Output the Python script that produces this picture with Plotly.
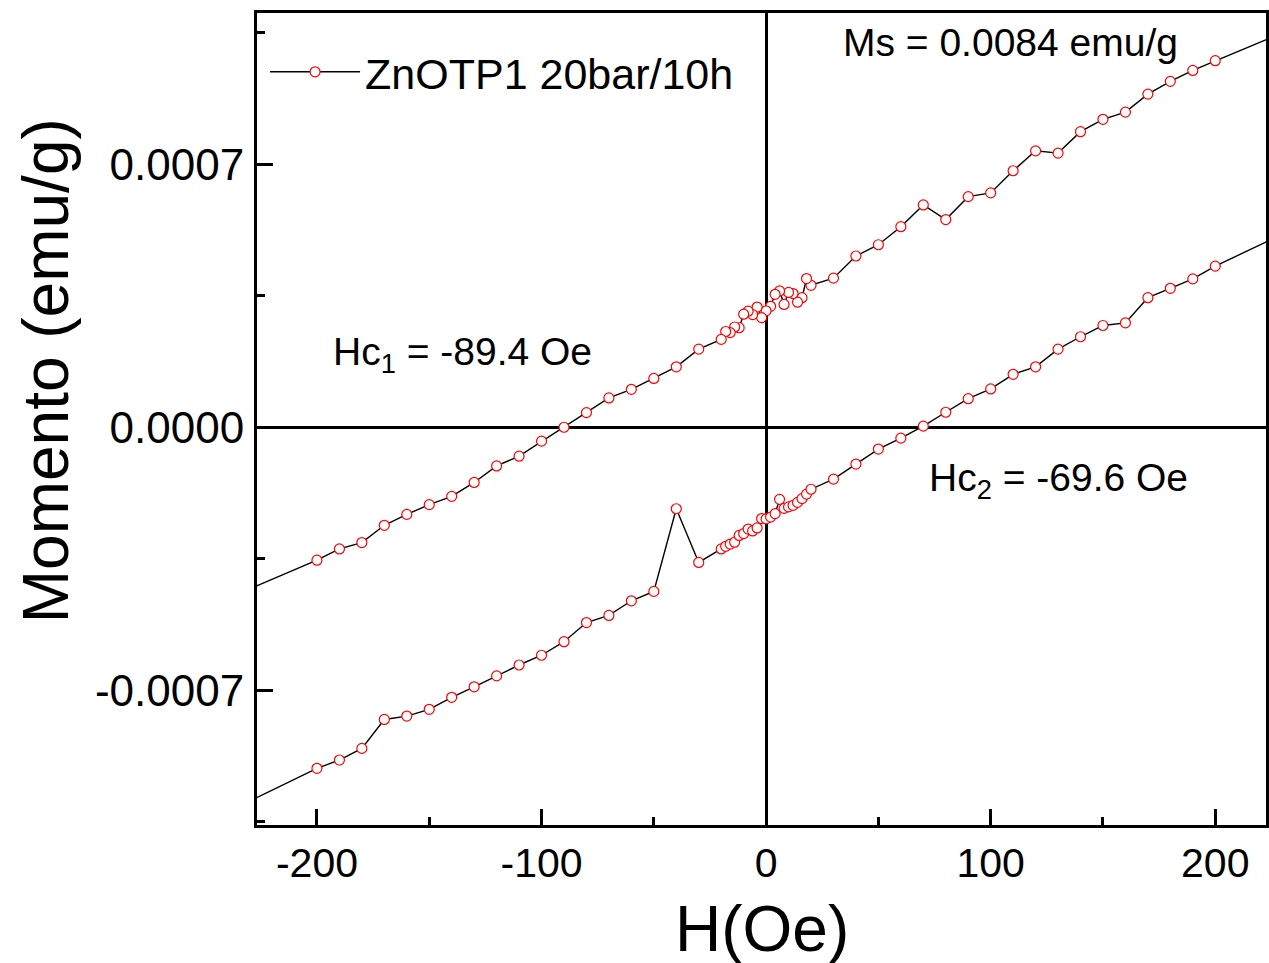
import plotly.graph_objects as go

# Descending branch (field swept from +H to -H)
H_down = [250, 200, 190, 180, 170, 160, 150, 140, 130, 120, 110, 100, 90, 80, 70, 60, 50, 40, 30,
          20, 18, 16, 14, 12, 10, 8, 6, 4, 2, 0, -2, -4, -6, -8, -10, -12, -14, -16, -18, -20,
          -30, -40, -50, -60, -70, -80, -90, -100, -110, -120, -130, -140, -150, -160, -170,
          -180, -190, -200, -250]
M_down = [11.00e-4, 9.76e-4, 9.50e-4, 9.21e-4, 8.87e-4, 8.39e-4, 8.20e-4, 7.87e-4, 7.30e-4, 7.36e-4,
          6.83e-4, 6.24e-4, 6.14e-4, 5.53e-4, 5.92e-4, 5.34e-4, 4.86e-4, 4.56e-4, 3.97e-4,
          3.78e-4, 3.96e-4, 3.45e-4, 3.33e-4, 3.56e-4, 3.59e-4, 3.27e-4, 3.63e-4, 3.54e-4, 3.22e-4,
          3.10e-4, 2.92e-4, 3.20e-4, 3.00e-4, 3.09e-4, 3.01e-4, 2.65e-4, 2.67e-4, 2.52e-4, 2.55e-4,
          2.34e-4, 2.08e-4, 1.61e-4, 1.30e-4, 1.01e-4, 0.78e-4, 0.39e-4, 0.00e-4, -0.37e-4,
          -0.77e-4, -1.03e-4, -1.47e-4, -1.84e-4, -2.06e-4, -2.32e-4, -2.61e-4, -3.07e-4,
          -3.24e-4, -3.54e-4, -4.81e-4]

# Ascending branch (field swept from -H to +H)
H_up = [-250, -200, -190, -180, -170, -160, -150, -140, -130, -120, -110, -100, -90, -80, -70,
        -60, -50, -40, -30, -20, -18, -16, -14, -12, -10, -8, -6, -4, -2, 0, 2, 4, 6, 8, 10, 12,
        14, 16, 18, 20, 30, 40, 50, 60, 70, 80, 90, 100, 110, 120, 130, 140, 150, 160, 170, 180,
        190, 200, 250]
M_up = [-10.54e-4, -9.08e-4, -8.86e-4, -8.55e-4, -7.78e-4, -7.69e-4, -7.51e-4, -7.19e-4, -6.91e-4,
        -6.62e-4, -6.33e-4, -6.07e-4, -5.71e-4, -5.20e-4, -5.01e-4, -4.62e-4, -4.37e-4, -2.17e-4,
        -3.60e-4, -3.24e-4, -3.17e-4, -3.11e-4, -3.06e-4, -2.88e-4, -2.83e-4, -2.71e-4, -2.76e-4,
        -2.68e-4, -2.43e-4, -2.44e-4, -2.39e-4, -2.30e-4, -1.92e-4, -2.16e-4, -2.12e-4, -2.08e-4,
        -2.00e-4, -1.90e-4, -1.78e-4, -1.65e-4, -1.38e-4, -0.98e-4, -0.58e-4, -0.29e-4, 0.03e-4,
        0.40e-4, 0.76e-4, 1.02e-4, 1.41e-4, 1.61e-4, 2.08e-4, 2.41e-4, 2.71e-4, 2.78e-4, 3.45e-4,
        3.70e-4, 3.95e-4, 4.29e-4, 5.71e-4]

series_name = "ZnOTP1 20bar/10h"
x_ticks = [-200, -100, 0, 100, 200]
x_tick_text = ["-200", "-100", "0", "100", "200"]
y_ticks = [-0.0007, 0.0, 0.0007]
y_tick_text = ["-0.0007", "0.0000", "0.0007"]

FONT = "Liberation Sans, Arial, sans-serif"

fig = go.Figure()
fig.add_trace(go.Scatter(
    x=H_down + H_up, y=M_down + M_up, mode="lines+markers", name=series_name,
    line=dict(color="black", width=1.4),
    marker=dict(symbol="circle", size=10, color="white", line=dict(color="red", width=1.2)),
    cliponaxis=True,
))

axis_common = dict(
    showline=True, linecolor="black", linewidth=3, mirror=True,
    ticks="inside", tickcolor="black", tickwidth=3, ticklen=16,
    showgrid=False, zeroline=True, zerolinecolor="black", zerolinewidth=2.5,
    automargin=False,
)

fig.update_xaxes(
    **axis_common, range=[-226.7, 222.6], tickvals=x_ticks, ticktext=x_tick_text,
    tickfont=dict(family=FONT, size=41, color="black"),
    minor=dict(ticks="inside", ticklen=8, tickwidth=3, tickcolor="black", dtick=50, tick0=0),
    ticklabelstandoff=0,
)
fig.update_yaxes(
    **axis_common, range=[-0.001059, 0.001103], tickvals=y_ticks, ticktext=y_tick_text,
    tickfont=dict(family=FONT, size=44, color="black"),
    minor=dict(ticks="inside", ticklen=8, tickwidth=3, tickcolor="black", dtick=0.00035, tick0=0),
    ticklabelstandoff=1,
)

# axis titles, placed as in the reference
fig.add_annotation(x=(46 - 257) / 1009, y=(825 - 371) / 812.5, xref="paper", yref="paper",
                   xanchor="center", yanchor="middle", text="Momento (emu/g)", textangle=-90,
                   showarrow=False, font=dict(family=FONT, size=64, color="black"))
fig.add_annotation(x=0.5, y=(825 - 929) / 812.5, xref="paper", yref="paper",
                   xanchor="center", yanchor="middle", text="H(Oe)",
                   showarrow=False, font=dict(family=FONT, size=64, color="black"))

fig.add_annotation(x=109, y=0.001025, xref="x", yref="y", text="Ms = 0.0084 emu/g",
                   showarrow=False, font=dict(family=FONT, size=39, color="black"))
fig.add_annotation(x=-135, y=0.000195, xref="x", yref="y", text="Hc<sub>1</sub> = -89.4 Oe",
                   showarrow=False, font=dict(family=FONT, size=39, color="black"))
fig.add_annotation(x=130, y=-0.000143, xref="x", yref="y", text="Hc<sub>2</sub> = -69.6 Oe",
                   showarrow=False, font=dict(family=FONT, size=39, color="black"))

fig.update_layout(
    width=1269, height=963,
    margin=dict(l=257, r=3, t=13, b=138, autoexpand=False),
    paper_bgcolor="white", plot_bgcolor="white",
    showlegend=True,
    legend=dict(x=0.008, y=0.97, xanchor="left", yanchor="top", bgcolor="rgba(0,0,0,0)",
                font=dict(family=FONT, size=43, color="black"), itemwidth=90),
)

fig.write_html("out.html", config={"displayModeBar": False},
               post_script="document.body.style.margin='0';")
